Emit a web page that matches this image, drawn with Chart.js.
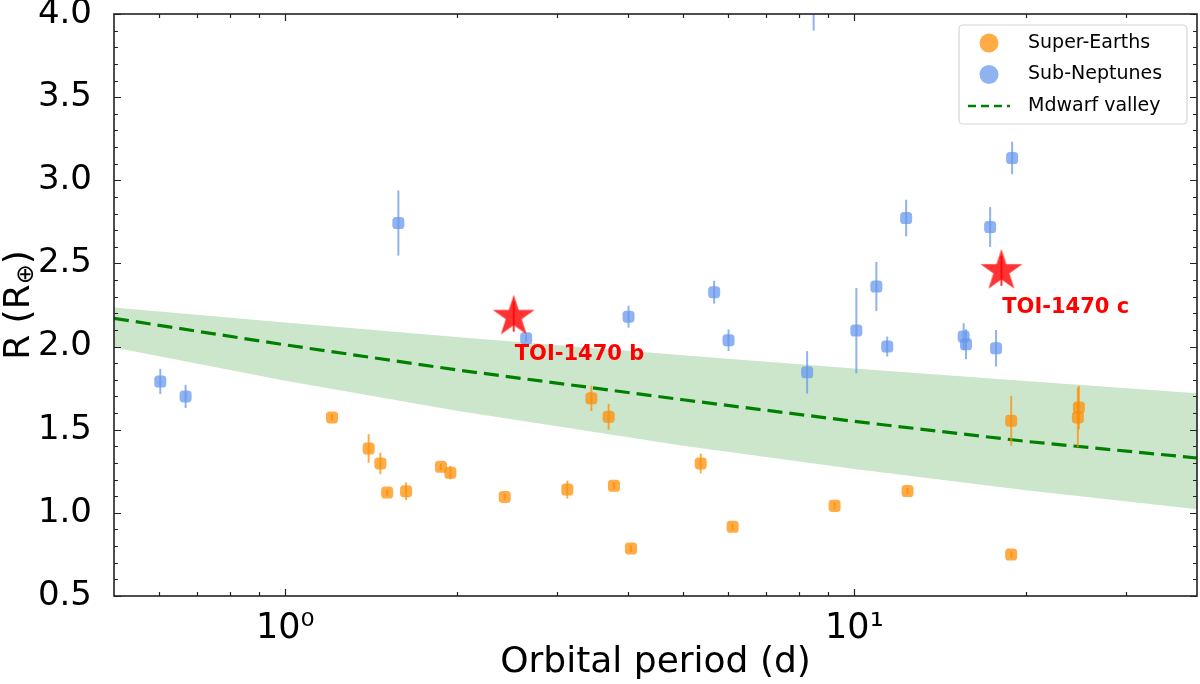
<!DOCTYPE html>
<html>
<head>
<meta charset="utf-8">
<script src="https://cdn.jsdelivr.net/npm/chart.js"></script>
<style>
html, body { margin: 0; padding: 0; background: #fff; }
#wrap { width: 1200px; height: 684px; }
</style>
</head>
<body>
<div id="wrap"><canvas id="radiusChart"></canvas></div>
<script>
// Super-Earths: orbital period (d), radius (R_earth), radius error
const sePeriod = [1.208, 1.401, 1.469, 1.51, 1.63, 1.877, 1.95, 2.43, 3.13, 3.45, 3.70, 3.78, 4.05, 5.37, 6.11, 9.23, 12.4, 18.86, 18.86, 24.8, 24.7];
const seRadius = [1.574, 1.387, 1.297, 1.122, 1.13, 1.277, 1.241, 1.096, 1.14, 1.689, 1.578, 1.163, 0.785, 1.297, 0.916, 1.042, 1.131, 1.554, 0.749, 1.633, 1.574];
const seErr    = [0.02, 0.086, 0.065, 0.02, 0.053, 0.02, 0.04, 0.02, 0.054, 0.076, 0.078, 0.02, 0.02, 0.06, 0.02, 0.02, 0.02, 0.15, 0.02, 0.13, 0.18];

// Sub-Neptunes
const snPeriod = [0.603, 0.668, 1.58, 2.65, 4.01, 5.67, 6.01, 8.26, 8.48, 10.08, 10.93, 11.42, 12.33, 15.56, 15.71, 17.32, 17.74, 18.93];
const snRadius = [1.79, 1.70, 2.743, 2.05, 2.18, 2.327, 2.038, 1.845, 4.15, 2.096, 2.361, 2.0, 2.773, 2.06, 2.014, 2.719, 1.99, 3.134];
const snErr    = [0.076, 0.07, 0.196, 0.02, 0.066, 0.069, 0.065, 0.128, 0.25, 0.257, 0.148, 0.06, 0.11, 0.08, 0.09, 0.12, 0.11, 0.098];

// TOI-1470 planets
const toiNames  = ['TOI-1470 b', 'TOI-1470 c'];
const toiPeriod = [2.52, 18.13];
const toiRadius = [2.18, 2.455];
const toiErr    = [0.09, 0.09];
const toiLabelPeriod = [2.53, 18.19];
const toiLabelRadius = [1.92, 2.20];

// M dwarf radius valley and its band
const valleyPeriod = [0.5, 1, 2, 5, 10, 20, 40];
const valleyMid  = [2.17, 2.01, 1.86, 1.68, 1.55, 1.43, 1.33];
const valleyHigh = [2.235, 2.145, 2.058, 1.948, 1.868, 1.793, 1.72];
const valleyLow  = [1.994, 1.795, 1.614, 1.403, 1.263, 1.136, 1.022];

// axes
const xMajorTicks = [1, 10];
const xTickLabels = ['10⁰', '10¹'];
const xMinorTicks = [0.6, 0.7, 0.8, 0.9, 2, 3, 4, 5, 6, 7, 8, 9, 20, 30];
const yMajorTicks = [0.5, 1.0, 1.5, 2.0, 2.5, 3.0, 3.5, 4.0];

const FONT = '"DejaVu Sans", "Liberation Sans", sans-serif';
const orange = 'rgba(255,140,0,0.72)';
const blue = 'rgba(100,149,237,0.72)';
const red = 'rgba(255,0,0,0.8)';

const pts = (xs, ys) => xs.map((v, i) => ({x: v, y: ys[i]}));

function makeStar(outer, color) {
    const s = Math.ceil(outer * 2 + 2);
    const c = document.createElement('canvas');
    c.width = s; c.height = s;
    const g = c.getContext('2d');
    g.fillStyle = color;
    g.beginPath();
    for (let i = 0; i < 10; i++) {
        const r = i % 2 ? outer * 0.382 : outer;
        const a = -Math.PI / 2 + i * Math.PI / 5;
        g.lineTo(s / 2 + r * Math.cos(a), s / 2 + r * Math.sin(a));
    }
    g.closePath();
    g.fill();
    return c;
}
const starImg = makeStar(22, red);

// vertical error bars, drawn on the chart's own scales
const errorBars = {
    id: 'errorBars',
    afterDatasetsDraw(chart) {
        const {ctx, chartArea: a, scales: {x, y}} = chart;
        ctx.save();
        ctx.beginPath();
        ctx.rect(a.left, a.top, a.right - a.left, a.bottom - a.top);
        ctx.clip();
        chart.data.datasets.forEach(ds => {
            if (!ds.errors) return;
            ctx.strokeStyle = ds.errColor;
            ctx.lineWidth = 2;
            ds.data.forEach((p, i) => {
                const px = x.getPixelForValue(p.x);
                ctx.beginPath();
                ctx.moveTo(px, y.getPixelForValue(p.y - ds.errors[i]));
                ctx.lineTo(px, y.getPixelForValue(p.y + ds.errors[i]));
                ctx.stroke();
            });
        });
        ctx.restore();
    }
};

// matplotlib-like frame with inward ticks on all sides
const frameTicks = {
    id: 'frameTicks',
    afterDraw(chart) {
        const {ctx, chartArea: a, scales: {x, y}} = chart;
        ctx.save();
        ctx.strokeStyle = '#222';
        ctx.lineWidth = 1.2;
        ctx.beginPath();
        const xt = (v, len) => {
            const px = Math.round(x.getPixelForValue(v)) + 0.5;
            ctx.moveTo(px, a.bottom); ctx.lineTo(px, a.bottom - len);
            ctx.moveTo(px, a.top); ctx.lineTo(px, a.top + len);
        };
        const yt = (v, len) => {
            const py = Math.round(y.getPixelForValue(v)) + 0.5;
            ctx.moveTo(a.left, py); ctx.lineTo(a.left + len, py);
            ctx.moveTo(a.right, py); ctx.lineTo(a.right - len, py);
        };
        xMajorTicks.forEach(v => xt(v, 7));
        xMinorTicks.forEach(v => xt(v, 4));
        yMajorTicks.forEach(v => yt(v, 7));
        for (let k = 6; k < 40; k++) {
            if (k % 5) yt(k / 10, 4);
        }
        ctx.stroke();
        ctx.lineWidth = 1.6;
        ctx.strokeRect(a.left, a.top, a.right - a.left, a.bottom - a.top);

        // y axis title with subscript
        ctx.translate(20, (a.top + a.bottom) / 2);
        ctx.rotate(-Math.PI / 2);
        ctx.fillStyle = '#000';
        ctx.textBaseline = 'middle';
        ctx.font = '36px ' + FONT;
        const w1 = ctx.measureText('R (R').width;
        const w3 = ctx.measureText(')').width;
        ctx.font = '24px ' + FONT;
        const w2 = ctx.measureText('⊕').width;
        let sx = -(w1 + w2 + w3) / 2;
        ctx.font = '36px ' + FONT;
        ctx.fillText('R (R', sx, 0);
        ctx.font = '24px ' + FONT;
        ctx.fillText('⊕', sx + w1, 7);
        ctx.font = '36px ' + FONT;
        ctx.fillText(')', sx + w1 + w2, 0);
        ctx.restore();
    }
};

// planet names and legend box
const annotations = {
    id: 'annotations',
    afterDraw(chart) {
        const {ctx, scales: {x, y}} = chart;
        ctx.save();
        ctx.fillStyle = '#ff0000';
        ctx.font = 'bold 21px ' + FONT;
        ctx.textBaseline = 'alphabetic';
        toiNames.forEach((n, i) => {
            ctx.fillText(n, x.getPixelForValue(toiLabelPeriod[i]), y.getPixelForValue(toiLabelRadius[i]));
        });

        // legend
        const bx = 959, by = 25, bw = 228, bh = 99;
        ctx.fillStyle = 'rgba(255,255,255,0.8)';
        ctx.strokeStyle = '#d6d6d6';
        ctx.lineWidth = 1.2;
        ctx.beginPath();
        ctx.roundRect(bx, by, bw, bh, 4);
        ctx.fill();
        ctx.stroke();
        const rows = [
            {label: 'Super-Earths', kind: 'dot', color: orange},
            {label: 'Sub-Neptunes', kind: 'dot', color: blue},
            {label: 'Mdwarf valley', kind: 'dash', color: '#008000'}
        ];
        ctx.font = '19px ' + FONT;
        ctx.textBaseline = 'middle';
        rows.forEach((r, i) => {
            const cy = by + 18 + i * 31.5;
            if (r.kind === 'dot') {
                ctx.fillStyle = r.color;
                ctx.beginPath();
                ctx.arc(989, cy, 9.5, 0, Math.PI * 2);
                ctx.fill();
            } else {
                ctx.strokeStyle = r.color;
                ctx.lineWidth = 2.5;
                ctx.setLineDash([8, 5]);
                ctx.beginPath();
                ctx.moveTo(968, cy);
                ctx.lineTo(1010, cy);
                ctx.stroke();
                ctx.setLineDash([]);
            }
            ctx.fillStyle = '#000';
            ctx.fillText(r.label, 1028, cy);
        });
        ctx.restore();
    }
};

new Chart(document.getElementById('radiusChart'), {
    type: 'scatter',
    data: {
        datasets: [{
            label: 'TOI-1470',
            data: pts(toiPeriod, toiRadius),
            errors: toiErr,
            errColor: red,
            pointStyle: starImg,
            order: 0
        }, {
            label: 'Super-Earths',
            data: pts(sePeriod, seRadius),
            errors: seErr,
            errColor: orange,
            pointStyle: 'rectRounded',
            pointRadius: 7,
            backgroundColor: orange,
            borderWidth: 0,
            order: 1
        }, {
            label: 'Sub-Neptunes',
            data: pts(snPeriod, snRadius),
            errors: snErr,
            errColor: blue,
            pointStyle: 'rectRounded',
            pointRadius: 7,
            backgroundColor: blue,
            borderWidth: 0,
            order: 2
        }, {
            label: 'Mdwarf valley',
            data: pts(valleyPeriod, valleyMid),
            showLine: true,
            borderColor: '#008000',
            borderWidth: 3.2,
            borderDash: [15, 7],
            pointRadius: 0,
            order: 3
        }, {
            label: 'band high',
            data: pts(valleyPeriod, valleyHigh),
            showLine: true,
            borderWidth: 0,
            borderColor: 'rgba(0,0,0,0)',
            backgroundColor: 'rgba(0,128,0,0.2)',
            pointRadius: 0,
            fill: '+1',
            order: 4
        }, {
            label: 'band low',
            data: pts(valleyPeriod, valleyLow),
            showLine: true,
            borderWidth: 0,
            borderColor: 'rgba(0,0,0,0)',
            pointRadius: 0,
            fill: false,
            order: 5
        }]
    },
    options: {
        responsive: true,
        maintainAspectRatio: false,
        animation: false,
        events: [],
        layout: { autoPadding: false, padding: { top: 14, right: 3, left: 0, bottom: 0 } },
        plugins: {
            legend: { display: false },
            tooltip: { enabled: false }
        },
        scales: {
            x: {
                type: 'logarithmic',
                min: 0.5,
                max: 40,
                grid: { display: false },
                border: { display: false },
                afterBuildTicks: s => { s.ticks = xMajorTicks.map(v => ({value: v})); },
                afterFit: s => {
                    s.height = 88;
                    s.paddingLeft = 0;
                    s.paddingRight = 0;
                },
                ticks: {
                    autoSkip: false,
                    maxRotation: 0,
                    padding: 4,
                    color: '#000',
                    font: { family: FONT, size: 35 },
                    callback: v => xTickLabels[xMajorTicks.indexOf(v)] || ''
                },
                title: {
                    display: true,
                    text: 'Orbital period (d)',
                    color: '#000',
                    font: { family: FONT, size: 36 },
                    padding: { top: 0, bottom: 0 }
                }
            },
            y: {
                min: 0.5,
                max: 4.0,
                grid: { display: false },
                border: { display: false },
                afterBuildTicks: s => { s.ticks = yMajorTicks.map(v => ({value: v})); },
                afterFit: s => {
                    s.width = 114;
                    s.paddingTop = 0;
                    s.paddingBottom = 0;
                },
                ticks: {
                    padding: 14,
                    color: '#000',
                    font: { family: FONT, size: 34 },
                    callback: v => v.toFixed(1)
                }
            }
        }
    },
    plugins: [errorBars, frameTicks, annotations]
});
</script>
</body>
</html>
